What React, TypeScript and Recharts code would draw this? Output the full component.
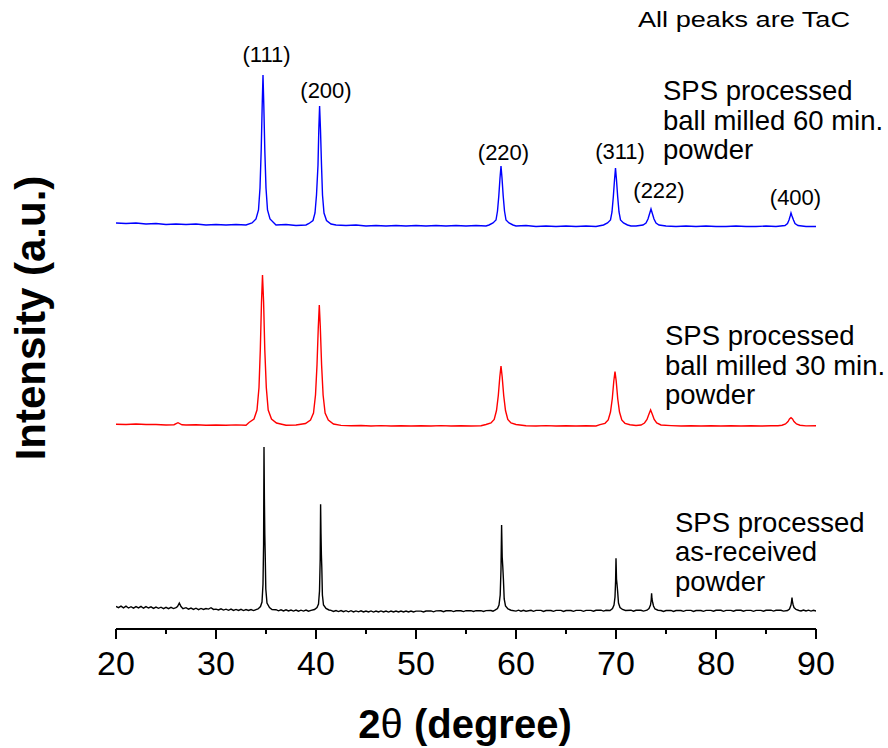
import React from 'react';
import { LineChart, Line, XAxis, YAxis } from 'recharts';

// 2-theta (degree) vs intensity (a.u.), three stacked XRD scans
type Pt = [number, number];

const X_TICKS = [20, 25, 30, 35, 40, 45, 50, 55, 60, 65, 70, 75, 80, 85, 90];

// ball milled 60 min. (blue)
const blueBase: Pt[] = [
  [20, 406], [21, 405.5], [22, 406], [23, 405], [24, 405.5], [25, 404.5], [26, 405], [27, 404.5],
  [28, 405], [29, 404], [30, 404.5], [31, 404], [32, 404.5], [33, 404], [36, 404], [37, 404.5],
  [38, 403.5], [39, 404], [42, 404], [43, 403.5], [44, 404], [45, 403], [46, 403.5], [47, 403],
  [48, 403.5], [49, 403], [50, 403.5], [51, 403], [52, 403.5], [53, 403], [54, 403.5], [55, 403],
  [56, 403.5], [57, 403], [60, 403], [61, 403.5], [62, 402.5], [63, 403], [64, 402.5], [65, 403],
  [66, 402.5], [67, 403], [68, 402.5], [71.5, 403], [72, 403], [75, 403], [76, 402.5], [77, 403],
  [78, 402.5], [79, 403], [80, 402.5], [81, 402.5], [82, 403], [83, 402.5], [84, 402.5], [85, 403],
  [86, 402.5], [89, 402.5], [90, 402.5],
];
const bluePeaks: Pt[] = [
  // (111)
  [33.6, 406], [34.0, 410], [34.25, 419], [34.4, 441], [34.52, 479], [34.62, 524], [34.7, 554],
  [34.78, 524], [34.88, 479], [35.0, 441], [35.15, 419], [35.4, 410], [35.8, 406],
  // (200)
  [39.3, 405.5], [39.7, 408.5], [39.9, 416], [40.05, 434], [40.2, 464], [40.28, 499], [40.36, 523],
  [40.45, 499], [40.55, 464], [40.65, 434], [40.8, 416], [41.05, 408.5], [41.5, 405],
  // (220)
  [57.3, 404], [57.7, 406], [58.0, 409], [58.15, 418], [58.28, 433], [58.4, 451], [58.5, 463],
  [58.6, 451], [58.72, 433], [58.85, 418], [59.0, 409], [59.3, 406], [59.7, 404],
  // (311)
  [68.75, 404], [69.15, 406], [69.45, 409], [69.6, 417], [69.73, 432], [69.85, 449], [69.95, 461],
  [70.05, 449], [70.17, 432], [70.3, 417], [70.45, 409], [70.75, 406], [71.15, 404],
  // (222)
  [72.7, 404], [73.0, 406], [73.2, 410], [73.35, 415], [73.5, 420], [73.65, 415], [73.8, 410],
  [74.0, 406], [74.3, 404],
  // (400)
  [86.9, 403.5], [87.15, 405.5], [87.3, 409], [87.42, 413], [87.5, 416], [87.6, 413], [87.75, 409],
  [87.9, 405.5], [88.2, 403.5],
];

// ball milled 30 min. (red)
const redBase: Pt[] = [
  [20, 204.7], [21, 204.5], [22, 205], [23, 204.5], [24, 204.5], [25, 204], [25.8, 204.3],
  [26.2, 206.3], [26.6, 204.2], [27, 204], [28, 204.3], [29, 203.8], [30, 204], [31, 203.8],
  [32, 204.1], [33, 203.8], [37, 203.7], [38, 204], [42.5, 203.6], [43.5, 203.2], [44.5, 203.5],
  [45.5, 203], [46.5, 203.4], [47.5, 203], [48.5, 203.3], [49.5, 203], [50.5, 203.3], [51.5, 203],
  [52.5, 203.4], [53.5, 203], [54.5, 203.3], [55.5, 203], [56.5, 203.3], [61, 203.3], [62, 203],
  [63, 203.4], [64, 203], [65, 203.3], [66, 203], [67, 203.2], [68, 203], [72, 203.5],
  [75.5, 203.4], [76.5, 203], [77.5, 203.3], [78.5, 203], [79.5, 203.2], [80.5, 203], [81.5, 203.3],
  [82.5, 203], [83.5, 203.2], [84.5, 203], [85.5, 203.2], [86.2, 203.3], [89, 203.1], [90, 203.2],
];
const redPeaks: Pt[] = [
  // (111)
  [33.3, 206.5], [33.8, 210], [34.1, 219], [34.3, 241.5], [34.43, 279], [34.55, 327], [34.65, 354],
  [34.76, 327], [34.88, 279], [35.03, 241.5], [35.22, 219], [35.55, 210], [36.05, 206],
  // (200)
  [38.95, 205.5], [39.45, 209], [39.75, 216], [39.95, 234], [40.1, 264], [40.23, 302], [40.33, 324],
  [40.43, 302], [40.56, 264], [40.71, 234], [40.91, 216], [41.23, 209], [41.75, 205],
  // (220)
  [57.0, 204.5], [57.5, 206], [57.82, 209.5], [58.05, 218.5], [58.23, 233.5], [58.38, 252], [58.5, 263],
  [58.62, 252], [58.77, 233.5], [58.95, 218.5], [59.18, 209.5], [59.5, 206], [60.0, 204.5],
  // (311)
  [68.4, 204.3], [68.9, 205.7], [69.22, 209], [69.45, 217], [69.63, 230.5], [69.78, 248], [69.9, 257.3],
  [70.02, 248], [70.17, 230.5], [70.35, 217], [70.58, 209], [70.9, 205.7], [71.4, 204.3],
  // (222)
  [72.5, 204], [72.85, 206], [73.1, 209.5], [73.28, 214.5], [73.46, 219], [73.64, 214.5], [73.82, 209.5],
  [74.07, 206], [74.5, 204],
  // (400)
  [86.6, 203.8], [86.95, 205], [87.2, 207.5], [87.35, 210], [87.5, 211.3], [87.65, 210], [87.8, 207.5],
  [88.05, 205], [88.4, 203.8],
];

// as-received (black)
const blackBase: Pt[] = [
  [20, 22.5], [20.25, 21.4], [20.5, 22.9], [20.75, 21.2], [21, 22.8], [21.25, 21.0], [21.5, 22.3],
  [21.75, 20.9], [22, 22.4], [22.25, 21.1], [22.5, 22.6], [22.75, 20.8], [23, 22.4], [23.25, 21.0],
  [23.5, 22.1], [23.75, 20.6], [24, 21.9], [24.25, 20.7], [24.5, 21.8], [24.75, 20.4], [25, 21.7],
  [25.25, 20.3], [25.5, 21.6], [25.75, 20.4], [26, 21.4], [26.15, 22.5], [26.33, 26], [26.5, 22.5],
  [26.7, 20.3], [27, 21.3], [27.25, 19.8], [27.5, 20.9], [27.75, 19.6], [28, 20.8], [28.25, 19.4],
  [28.5, 20.6], [28.75, 19.5], [29, 20.5], [29.25, 19.9], [29.5, 21.3], [29.75, 19.6], [30, 19.9],
  [30.25, 19.0], [30.5, 20.2], [30.75, 18.9], [31, 19.8], [31.25, 18.7], [31.5, 19.9], [31.75, 18.6],
  [32, 19.6], [32.25, 18.5], [32.5, 19.7], [32.75, 18.4], [33, 19.4], [33.25, 18.5], [33.5, 19.5],
  [33.75, 18.4], [34, 19.3],
  [36, 19.3], [36.25, 18.2], [36.5, 19.2], [36.75, 18.1], [37, 19.2], [37.25, 18.0], [37.5, 18.9],
  [37.75, 17.9], [38, 19.0], [38.25, 17.8], [38.5, 18.8], [38.75, 17.9], [39, 18.9], [39.25, 17.8],
  [39.5, 18.6],
  [41.5, 18.6], [41.75, 17.5], [42, 18.4], [42.25, 17.4], [42.5, 18.5], [42.75, 17.3], [43, 18.3],
  [43.25, 17.2], [43.5, 18.3], [43.75, 17.1], [44, 18.1], [44.25, 17.2], [44.5, 18.2], [44.75, 17.0],
  [45, 18.0], [45.25, 17.1], [45.5, 18.1], [45.75, 16.9], [46, 17.9], [46.25, 17.0], [46.5, 18.1],
  [46.75, 17.1], [47, 18.0], [47.25, 16.9], [47.5, 18.0], [47.75, 17.0], [48, 17.9], [48.25, 17.0],
  [48.5, 17.9], [48.75, 17.1], [49, 18.0], [49.25, 17.0], [49.5, 18.0], [49.75, 17.1], [50, 17.9],
  [50.5, 17.9], [50.75, 17.1], [51, 18.0], [51.5, 18.1], [51.75, 17.2], [52, 18.1], [52.5, 18.2],
  [52.75, 17.3], [53, 18.2], [53.5, 18.3], [53.75, 17.4], [54, 18.2], [54.5, 18.2], [54.75, 17.4],
  [55, 18.3], [55.5, 18.3], [55.75, 17.5], [56, 18.3], [56.5, 18.4], [56.75, 17.6], [57, 18.4],
  [57.5, 18.5], [57.7, 17.8],
  [60, 17.9], [60.25, 18.8], [60.5, 17.8], [60.75, 18.7], [61, 17.8], [61.5, 18.7], [61.75, 17.7],
  [62, 18.6], [62.5, 18.6], [62.75, 17.6], [63, 18.5], [63.5, 18.5], [63.75, 17.7], [64, 18.6],
  [64.5, 18.6], [64.75, 17.6], [65, 18.5], [65.5, 18.5], [65.75, 17.7], [66, 18.6], [66.5, 18.6],
  [66.75, 17.7], [67, 18.6], [67.5, 18.6], [67.75, 17.8], [68, 18.7], [68.5, 18.9], [68.75, 17.9],
  [69, 18.7],
  [71.5, 18.8], [71.75, 17.8], [72, 18.7], [72.5, 18.7], [72.75, 17.9],
  [74.5, 18.5], [74.75, 17.6], [75, 18.5], [75.5, 18.6], [75.75, 17.6], [76, 18.5], [76.5, 18.5],
  [76.75, 17.7], [77, 18.6], [77.5, 18.6], [77.75, 17.6], [78, 18.5], [78.5, 18.5], [78.75, 17.7],
  [79, 18.6], [79.5, 18.6], [79.75, 17.8], [80, 18.7], [80.5, 18.7], [80.75, 17.7], [81, 18.6],
  [81.5, 18.6], [81.75, 17.8], [82, 18.7], [82.5, 18.7], [82.75, 17.8], [83, 18.6], [83.5, 18.6],
  [83.75, 17.7], [84, 18.6], [84.5, 18.6], [84.75, 17.8], [85, 18.7], [85.5, 18.8], [85.75, 17.9],
  [86, 18.7], [86.5, 18.7], [86.75, 17.9],
  [88.5, 18.0], [88.75, 18.9], [89, 18.0], [89.25, 18.8], [89.5, 17.9], [89.75, 18.7], [90, 18.0],
];
const blackPeaks: Pt[] = [
  // (111) with K-alpha2 shoulder
  [34.2, 20], [34.45, 22.5], [34.6, 27], [34.7, 45], [34.76, 85], [34.8, 182], [34.84, 130], [34.88, 95],
  [34.92, 75], [34.98, 40], [35.1, 26], [35.35, 21.5], [35.6, 19.5],
  // (200)
  [39.85, 19.5], [40.1, 21.5], [40.25, 25], [40.35, 38], [40.42, 70], [40.46, 124.7], [40.5, 95],
  [40.54, 74], [40.58, 62], [40.64, 34], [40.75, 24], [41.0, 20.5], [41.3, 19],
  // (220)
  [57.9, 18.8], [58.15, 20.5], [58.3, 24], [58.42, 34], [58.5, 60], [58.56, 104], [58.62, 72],
  [58.68, 62], [58.74, 50], [58.82, 30], [58.95, 23], [59.2, 20], [59.5, 18.8],
  // (311)
  [69.4, 18.5], [69.65, 20.5], [69.8, 24], [69.9, 32], [69.96, 48], [70.0, 70.7], [70.05, 50],
  [70.1, 45], [70.16, 38], [70.25, 26], [70.4, 21.5], [70.65, 19.5], [70.95, 18.5],
  // (222)
  [73.1, 18.8], [73.3, 20.5], [73.45, 24], [73.52, 29], [73.56, 35.7], [73.6, 30], [73.66, 27],
  [73.75, 23], [73.9, 20], [74.2, 18.8],
  // (400)
  [87.15, 18.5], [87.35, 20], [87.5, 24], [87.56, 28], [87.6, 31.3], [87.65, 27], [87.72, 24],
  [87.8, 21.5], [88.0, 19.5], [88.3, 18.5],
];

const toSeries = (...parts: Pt[][]) =>
  parts.flat().sort((a, b) => a[0] - b[0]).map(([x, v]) => ({ x, v }));

const blueData = toSeries(blueBase, bluePeaks);
const redData = toSeries(redBase, redPeaks);
const blackData = toSeries(blackBase, blackPeaks);

const PEAK_LABELS = [
  { text: '(111)', x: 266.5, y: 62 },
  { text: '(200)', x: 326, y: 98 },
  { text: '(220)', x: 503.5, y: 160 },
  { text: '(311)', x: 620, y: 158.5 },
  { text: '(222)', x: 659, y: 198 },
  { text: '(400)', x: 795.5, y: 205 },
];

const SAMPLE_LABELS = [
  { lines: ['SPS processed', 'ball milled 60 min.', 'powder'], x: 663, y: 100 },
  { lines: ['SPS processed', 'ball milled 30 min.', 'powder'], x: 665, y: 345 },
  { lines: ['SPS processed', 'as-received', 'powder'], x: 675, y: 531.5 },
];

const FONT = '"Liberation Sans", Arial, Helvetica, sans-serif';

const XTick = (props: any) => {
  const { x, y, payload } = props;
  const major = payload.value % 10 === 0;
  return (
    <g>
      <line x1={x} x2={x} y1={y} y2={y + (major ? 10 : 5)} stroke="#000" strokeWidth={2} />
      {major && (
        <text x={x} y={y + 46} textAnchor="middle" fontSize={34} fontFamily={FONT} fill="#000">
          {payload.value}
        </text>
      )}
    </g>
  );
};

export default function App() {
  return (
    <div style={{ position: 'absolute', left: 0, top: 0, width: 888, height: 748, background: '#fff' }}>
      <LineChart width={888} height={748} margin={{ top: 59, right: 72, bottom: 59, left: 116 }}>
        <XAxis
          type="number"
          dataKey="x"
          domain={[20, 90]}
          ticks={X_TICKS}
          interval={0}
          height={60}
          tickSize={0}
          tickMargin={0}
          tickLine={false}
          axisLine={{ stroke: '#000', strokeWidth: 2 }}
          tick={<XTick />}
          allowDataOverflow
        />
        <YAxis
          type="number"
          domain={[0, 570]}
          width={0}
          tick={false}
          tickLine={false}
          axisLine={{ stroke: '#000', strokeWidth: 2 }}
        />
        <Line data={blackData} dataKey="v" type="linear" stroke="#000000" strokeWidth={1.4} dot={false} isAnimationActive={false} />
        <Line data={redData} dataKey="v" type="linear" stroke="#ff0000" strokeWidth={1.4} dot={false} isAnimationActive={false} />
        <Line data={blueData} dataKey="v" type="linear" stroke="#0000ff" strokeWidth={1.4} dot={false} isAnimationActive={false} />
      </LineChart>

      <svg width={888} height={748} style={{ position: 'absolute', left: 0, top: 0, pointerEvents: 'none' }}>
        <g fontFamily={FONT} fill="#000">
          <text x={638} y={27} fontSize={22} textLength={212} lengthAdjust="spacingAndGlyphs">
            All peaks are TaC
          </text>
          {PEAK_LABELS.map((p) => (
            <text key={p.text} x={p.x} y={p.y} fontSize={22} textAnchor="middle">
              {p.text}
            </text>
          ))}
          {SAMPLE_LABELS.map((s, i) => (
            <text key={i} x={s.x} y={s.y} fontSize={27.5}>
              {s.lines.map((l, j) => (
                <tspan key={j} x={s.x} dy={j === 0 ? 0 : 29.5}>
                  {l}
                </tspan>
              ))}
            </text>
          ))}
          <text x={465} y={738} fontSize={40} fontWeight="bold" textAnchor="middle">
            2<tspan fontWeight="normal">θ</tspan> (degree)
          </text>
          <text
            transform="translate(45,318) rotate(-90)"
            fontSize={42}
            fontWeight="bold"
            textAnchor="middle"
          >
            Intensity (a.u.)
          </text>
        </g>
      </svg>
    </div>
  );
}
